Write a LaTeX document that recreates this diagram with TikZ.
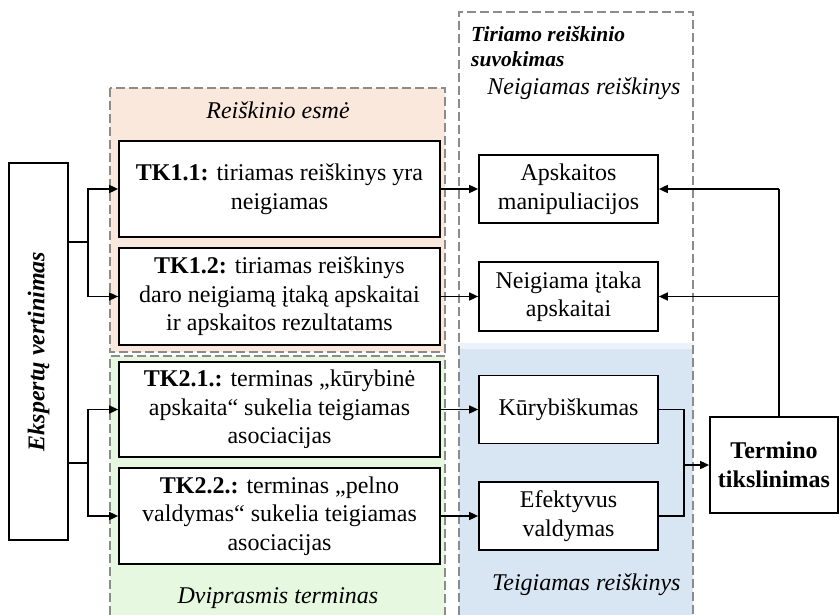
\documentclass[tikz,border=0pt]{standalone}
\usepackage{fontspec}
\setmainfont{Liberation Serif}
\usetikzlibrary{arrows.meta}
\definecolor{orangefill}{HTML}{FBE8DC}
\definecolor{greenfill}{HTML}{E6F8E0}
\definecolor{bluefill}{HTML}{D8E5F3}
\definecolor{dashgray}{HTML}{8C8C8C}
\begin{document}
\begin{tikzpicture}[x=1pt,y=-1pt,
  box/.style={draw,line width=1.7pt,fill=white,align=center,inner sep=0pt,font=\fontsize{24}{28.5}\selectfont},
  region/.style={draw=dashgray,dash pattern=on 9pt off 4pt,line width=1.3pt},
  conn/.style={line width=1.6pt,-{Triangle[length=9pt,width=8pt]}},
  plain/.style={line width=1.6pt},
  lab/.style={font=\fontsize{24}{28}\selectfont\itshape,anchor=base}]
\useasboundingbox (0,0) rectangle (840,615);
% regions
\draw[region,fill=orangefill] (110,88) rectangle (445,352);
\fill[greenfill] (110,356) rectangle (445,615);
\draw[region] (110,615) -- (110,356) -- (445,356) -- (445,615);
\fill[bluefill!50] (459,343) rectangle (693,349);
\fill[bluefill] (459,349) rectangle (693,615);
\draw[region] (459,615) -- (459,12) -- (693,12) -- (693,615);
% region labels
\node[lab] (l1) at (278,118) {Reiškinio esmė};
\node[lab] (l2) at (278,603) {Dviprasmis terminas};
\node[lab,anchor=base east] (l3) at (684,95) {Neigiamas reiškinys};
\node[lab,anchor=base east] (l4) at (684,590) {Teigiamas reiškinys};
\node[anchor=base west,font=\fontsize{21.5}{26}\selectfont\bfseries\itshape,inner sep=0pt] (l5) at (471,42) {Tiriamo reiškinio};
\node[anchor=base west,font=\fontsize{21.5}{26}\selectfont\bfseries\itshape,inner sep=0pt] (l6) at (471,67) {suvokimas};
% boxes
\node[box,minimum width=59,minimum height=377] (eksp) at (38.5,351.5)
  {\rotatebox{90}{\bfseries\itshape Ekspertų vertinimas}};
\node[box,minimum width=321,minimum height=96] (tk11) at (279.5,189)
  {\textbf{TK1.1:} tiriamas reiškinys yra\\neigiamas};
\node[box,minimum width=321,minimum height=97] (tk12) at (279.5,296.5)
  {\textbf{TK1.2:} tiriamas reiškinys\\daro neigiamą įtaką apskaitai\\ir apskaitos rezultatams};
\node[box,minimum width=321,minimum height=95] (tk21) at (279.5,409.5)
  {\textbf{TK2.1.:} terminas „kūrybinė\\apskaita“ sukelia teigiamas\\asociacijas};
\node[box,minimum width=321,minimum height=96] (tk22) at (279.5,516)
  {\textbf{TK2.2.:} terminas „pelno\\valdymas“ sukelia teigiamas\\asociacijas};
\node[box,minimum width=179,minimum height=68] (apsk) at (568.5,189)
  {Apskaitos\\manipuliacijos};
\node[box,minimum width=179,minimum height=69] (neig) at (568.5,296.5)
  {Neigiama įtaka\\apskaitai};
\node[box,minimum width=179,minimum height=68] (kur) at (568.5,409.5)
  {Kūrybiškumas};
\node[box,minimum width=179,minimum height=68] (efek) at (568.5,516)
  {Efektyvus\\valdymas};
\node[box,minimum width=128,minimum height=96,font=\fontsize{24}{28.5}\selectfont\bfseries] (term) at (774,465)
  {Termino\\tikslinimas};
% connectors left
\coordinate (j1) at (88,242);
\coordinate (j2) at (88,463);
\draw[plain] (j1 -| eksp.east) -- (j1);
\draw[conn] (j1) |- (tk11.west);
\draw[conn] (j1) |- (tk12.west);
\draw[plain] (j2 -| eksp.east) -- (j2);
\draw[conn] (j2) |- (tk21.west);
\draw[conn] (j2) |- (tk22.west);
% middle
\draw[conn] (tk11.east) -- (apsk.west);
\draw[conn] (tk12.east) -- (neig.west);
\draw[conn] (tk21.east) -- (kur.west);
\draw[conn] (tk22.east) -- (efek.west);
% merge
\coordinate (m) at (684,465);
\draw[plain] (kur.east) -| (m);
\draw[plain] (efek.east) -| (m);
\draw[conn] (m) -- (term.west);
% feedback
\coordinate (fb) at (779,189);
\draw[plain] (term.north -| fb) -- (fb);
\draw[conn] (fb) -- (apsk.east);
\draw[conn] (fb |- neig.east) -- (neig.east);
\end{tikzpicture}
\end{document}
